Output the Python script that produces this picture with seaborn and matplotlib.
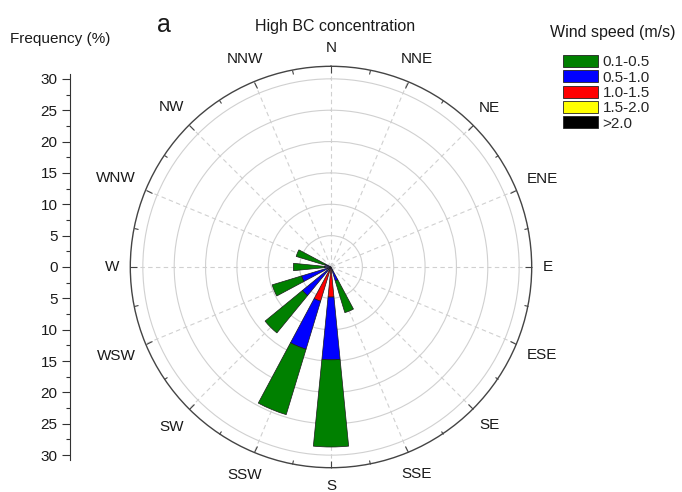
import numpy as np
import pandas as pd
import matplotlib
matplotlib.use("Agg")
import matplotlib.pyplot as plt
from matplotlib.patches import Patch
from matplotlib.ticker import FixedLocator, MultipleLocator, FuncFormatter
import seaborn as sns

# ---- data: wind-direction frequency (%) per speed class ----
directions = ["N", "NNE", "NE", "ENE", "E", "ESE", "SE", "SSE",
              "S", "SSW", "SW", "WSW", "W", "WNW", "NW", "NNW"]
speed_bins = ["0.1-0.5", "0.5-1.0", "1.0-1.5", "1.5-2.0", ">2.0"]
freq_01_05 = [0, 0, 0, 0, 0, 0, 0, 5.3, 13.9, 10.9, 7.7, 4.9, 5.0, 4.8, 0, 0]
freq_05_10 = [0, 0, 0, 0, 0, 0, 0, 2.3, 10.0, 8.0, 5.9, 4.9, 1.0, 1.0, 0, 0]
freq_10_15 = [0, 0, 0, 0, 0, 0, 0, 0, 4.8, 5.7, 0, 0, 0, 0, 0, 0]
freq_15_20 = [0] * 16
freq_gt_20 = [0] * 16
bin_colors = ["#008000", "#0000ff", "#ff0000", "#ffff00", "#000000"]
r_max = 32
freq_ticks = list(range(-30, 31, 5))

df = pd.DataFrame({"direction": directions,
                   "0.1-0.5": freq_01_05, "0.5-1.0": freq_05_10,
                   "1.0-1.5": freq_10_15, "1.5-2.0": freq_15_20,
                   ">2.0": freq_gt_20})

sns.set_theme(style="white")
plt.rcParams["font.family"] = ["Liberation Sans", "DejaVu Sans"]
text_color = "#1a1a1a"

W, H = 682, 492
fig = plt.figure(figsize=(W / 100, H / 100), dpi=100)
cx, cy = 331.0, 225.0          # rose centre, pixels from bottom-left
rad_px = 200.7                 # pixel radius of the outer ring
scale = rad_px / r_max

ax = fig.add_axes([(cx - rad_px) / W, (cy - rad_px) / H,
                   2 * rad_px / W, 2 * rad_px / H], projection="polar")
ax.set_theta_zero_location("N")
ax.set_theta_direction(-1)
ax.set_ylim(0, r_max)
ax.set_facecolor("white")

theta = np.deg2rad(np.arange(len(directions)) * 22.5)
bar_w = np.deg2rad(11.25)

# stacked petals: fastest class innermost, slowest outermost
bottom = np.zeros(len(directions))
for name, col in reversed(list(zip(speed_bins, bin_colors))):
    vals = df[name].to_numpy(dtype=float)
    m = vals > 0
    if m.any():
        ax.bar(theta[m], vals[m], width=bar_w, bottom=bottom[m], color=col,
               edgecolor="#1a1a1a", linewidth=0.5, zorder=3)
    bottom += vals

# grid: solid rings, dashed spokes
ax.set_yticks(range(5, 31, 5))
ax.set_yticklabels([])
ax.tick_params(axis="y", length=0)
ax.yaxis.grid(True, color="#d0d0d0", linewidth=0.8, linestyle="-")
ax.set_xticks(theta)
ax.set_xticklabels([])
ax.set_xticks(theta + np.deg2rad(11.25), minor=True)
ax.xaxis.grid(True, which="major", color="#d0d0d0", linewidth=0.8,
              linestyle=(0, (4, 3)))
ax.tick_params(axis="x", which="major", bottom=False, top=True, direction="in",
               length=5, width=0.8, color="#444444")
ax.tick_params(axis="x", which="minor", bottom=False, top=True, direction="in",
               length=3, width=0.8, color="#444444")
ax.spines["polar"].set_color("#444444")
ax.spines["polar"].set_linewidth(1.0)

# left frequency scale sharing the radial scale
half = 30.8
lax = fig.add_axes([70 / W, (cy - half * scale) / H, 0.0001, 2 * half * scale / H])
lax.set_ylim(-half, half)
lax.yaxis.set_major_locator(FixedLocator(freq_ticks))
lax.yaxis.set_major_formatter(FuncFormatter(lambda v, p: f"{abs(v):.0f}"))
lax.yaxis.set_minor_locator(MultipleLocator(2.5))
lax.tick_params(axis="y", which="major", left=True, length=6, width=0.8,
                color="#333333", labelsize=11, labelcolor=text_color, pad=3)
lax.tick_params(axis="y", which="minor", left=True, length=3, width=0.8,
                color="#333333")
for s in ["top", "right", "bottom"]:
    lax.spines[s].set_visible(False)
lax.spines["left"].set_color("#333333")
lax.spines["left"].set_linewidth(0.8)
lax.set_xticks([])
lax.patch.set_visible(False)

# texts
fig.text(60 / W, 1 - 43 / H, "Frequency (%)", ha="center", va="baseline",
         fontsize=11, color=text_color)
fig.text(335 / W, 1 - 30.7 / H, "High BC concentration", ha="center",
         va="baseline", fontsize=11.5, color=text_color)
fig.text(164 / W, 1 - 31.7 / H, "a", ha="center", va="baseline",
         fontsize=18, color=text_color)
fig.text(613 / W, 1 - 37.3 / H, "Wind speed (m/s)", ha="center",
         va="baseline", fontsize=11.5, color=text_color)

handles = [Patch(facecolor=c, edgecolor="#222222", linewidth=0.6) for c in bin_colors]
fig.legend(handles, speed_bins, loc="upper left",
           bbox_to_anchor=(563 / W, 1 - 55 / H), frameon=False, fontsize=11,
           handlelength=2.3, handleheight=0.85, labelspacing=0.06,
           handletextpad=0.3, borderpad=0, borderaxespad=0)

# compass labels, pushed out so each box clears the ring by the same gap
fig.canvas.draw()
renderer = fig.canvas.get_renderer()
edge_px = 212.0
for i, name in enumerate(directions):
    a = np.deg2rad(i * 22.5)
    t = fig.text(0, 0, name, ha="center", va="center", fontsize=11,
                 color=text_color)
    bb = t.get_window_extent(renderer)
    dist = edge_px + 0.5 * bb.width * abs(np.sin(a)) + 0.5 * bb.height * abs(np.cos(a))
    t.set_position(((cx + dist * np.sin(a)) / W, (cy + dist * np.cos(a)) / H))

fig.savefig("out.png", dpi=100)
